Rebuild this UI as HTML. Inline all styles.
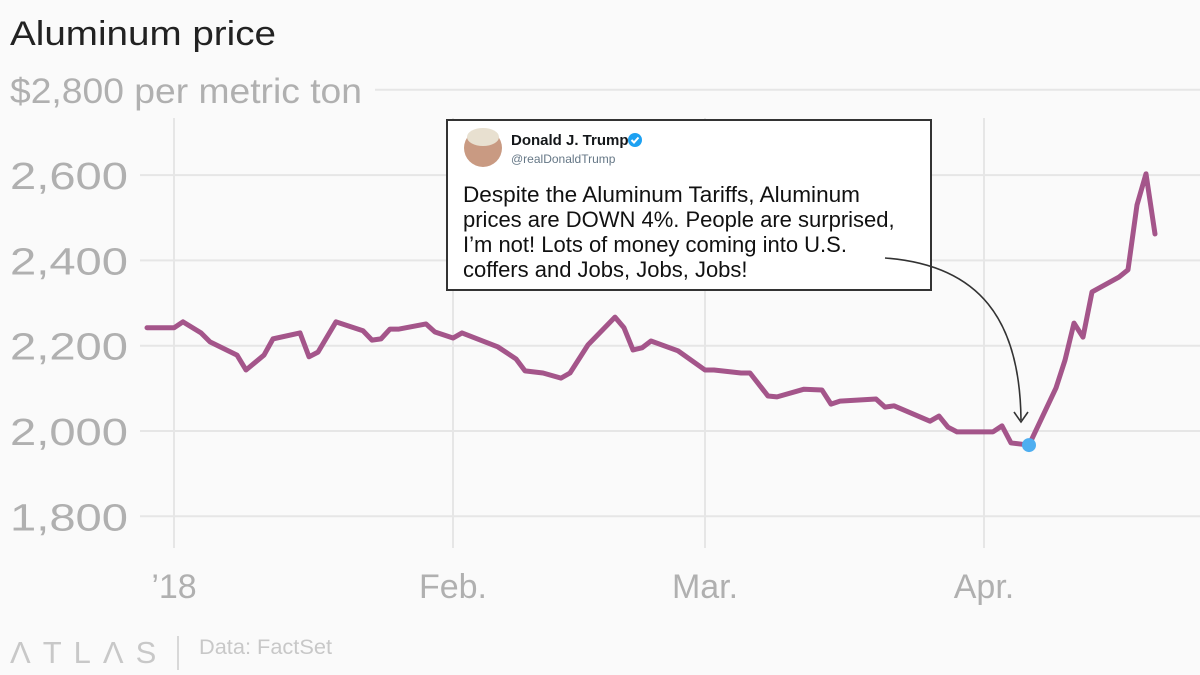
<!DOCTYPE html>
<html><head><meta charset="utf-8"><style>
body{margin:0;background:#fafafa;width:1200px;height:675px;overflow:hidden;font-family:"Liberation Sans",sans-serif}
</style></head><body>
<svg width="1200" height="675" style="position:absolute;left:0;top:0">
<rect width="1200" height="675" fill="#fafafa"/>
<text x="10" y="45" font-size="34" fill="#222" textLength="266" lengthAdjust="spacingAndGlyphs">Aluminum price</text>
<g id="grid"></g>
<g id="yt"></g>
<g id="xt"></g>
<path id="line" fill="none" stroke="#a4558a" stroke-width="5" stroke-linejoin="round" stroke-linecap="round"/>
<circle id="dot" r="7" fill="#4eaef0"/>
<g>
<rect x="447" y="120" width="484" height="170" fill="#fff" stroke="#333" stroke-width="2"/>
<circle cx="483" cy="148" r="19" fill="#c99a82"/>
<ellipse cx="483" cy="137" rx="16" ry="9" fill="#e8e0d0"/>
<text x="511" y="145" font-size="15" font-weight="bold" fill="#14171a">Donald J. Trump</text>
<circle cx="635" cy="140" r="7" fill="#1da1f2"/>
<path d="M631.5 140l2.5 2.5 4.5-5" stroke="#fff" stroke-width="2" fill="none"/>
<text x="511" y="163" font-size="12" fill="#657786">@realDonaldTrump</text>
<text font-size="22" fill="#111"><tspan x="463" y="202" textLength="397" lengthAdjust="spacingAndGlyphs">Despite the Aluminum Tariffs, Aluminum</tspan><tspan x="463" y="227">prices are DOWN 4%. People are surprised,</tspan><tspan x="463" y="252">I’m not! Lots of money coming into U.S.</tspan><tspan x="463" y="277">coffers and Jobs, Jobs, Jobs!</tspan></text>
</g>
<path d="M885 258 C980 265 1020 320 1021 420" fill="none" stroke="#333" stroke-width="1.6"/>
<path d="M1014 412 L1021 422 L1028 412" fill="none" stroke="#333" stroke-width="1.6"/>
<text x="10" y="663" font-size="31" fill="#c8c8c8" letter-spacing="12">ΛTLΛS</text>
<line x1="178" y1="636" x2="178" y2="670" stroke="#ccc" stroke-width="1.5"/>
<text x="199" y="654" font-size="21" fill="#c8c8c8" textLength="133" lengthAdjust="spacingAndGlyphs">Data: FactSet</text>
</svg>
<script>
const days=[-3,0,1,3,4,7,8,10,11,14,15,16,18,21,22,23,24,25,28,29,31,32,36,38,39,41,43,44,46,49,50,51,52,53,56,59,60,63,64,66,67,70,72,73,74,78,79,80,84,85,86,87,91,92,93,95,98,99,100,101,102,105,106,107,108,109];
const prices=[2242,2242,2256,2230,2209,2178,2143,2178,2216,2230,2174,2185,2256,2235,2213,2216,2239,2239,2251,2232,2218,2230,2197,2169,2141,2136,2124,2136,2202,2267,2242,2190,2195,2211,2188,2143,2143,2136,2136,2082,2080,2098,2096,2063,2070,2075,2056,2059,2023,2035,2009,1998,1998,2012,1972,1967,2101,2166,2253,2220,2326,2361,2378,2530,2603,2462];
const yTicks=[1800,2000,2200,2400,2600,2800];
const xTickDays=[0,31,59,90];
const xTickLabels=["’18","Feb.","Mar.","Apr."];
const tweetIndex=55;
const X=d=>174+d*9, Y=v=>431-(v-2000)*85.3/200;
const ns="http://www.w3.org/2000/svg";
const grid=document.getElementById('grid'),yt=document.getElementById('yt'),xt=document.getElementById('xt');
yTicks.forEach(v=>{
 const l=document.createElementNS(ns,'line');
 
 
 l.setAttribute('x1',v===2800?375:140);l.setAttribute('x2',1200);l.setAttribute('y1',Y(v));l.setAttribute('y2',Y(v));
 l.setAttribute('stroke','#e6e6e6');l.setAttribute('stroke-width','2');grid.appendChild(l);
 const t=document.createElementNS(ns,'text');
 
 
 const top=v===2800;
 t.setAttribute('x',10);t.setAttribute('y',Y(v)+(top?13:14));t.setAttribute('font-size',top?'35':'38');t.setAttribute('fill','#b0b0b0');
 t.setAttribute('textLength',top?'352':'118');t.setAttribute('lengthAdjust','spacingAndGlyphs');
 t.textContent=top?'$2,800 per metric ton':v.toLocaleString('en-US');yt.appendChild(t);
});
xTickDays.forEach((d,i)=>{
 const l=document.createElementNS(ns,'line');
 
 
 l.setAttribute('x1',X(d));l.setAttribute('x2',X(d));l.setAttribute('y1',118);l.setAttribute('y2',548);
 l.setAttribute('stroke','#e6e6e6');l.setAttribute('stroke-width','2');grid.appendChild(l);
 const t=document.createElementNS(ns,'text');
 
 
 t.setAttribute('x',X(d));t.setAttribute('y',598);t.setAttribute('font-size','34');t.setAttribute('fill','#b0b0b0');t.setAttribute('text-anchor','middle');
 t.textContent=xTickLabels[i];xt.appendChild(t);
});
document.getElementById('line').setAttribute('d',days.map((d,i)=>(i?'L':'M')+X(d)+' '+Y(prices[i])).join(''));
const dot=document.getElementById('dot');
dot.setAttribute('cx',X(days[tweetIndex]));dot.setAttribute('cy',Y(prices[tweetIndex]));
</script>
</body></html>
